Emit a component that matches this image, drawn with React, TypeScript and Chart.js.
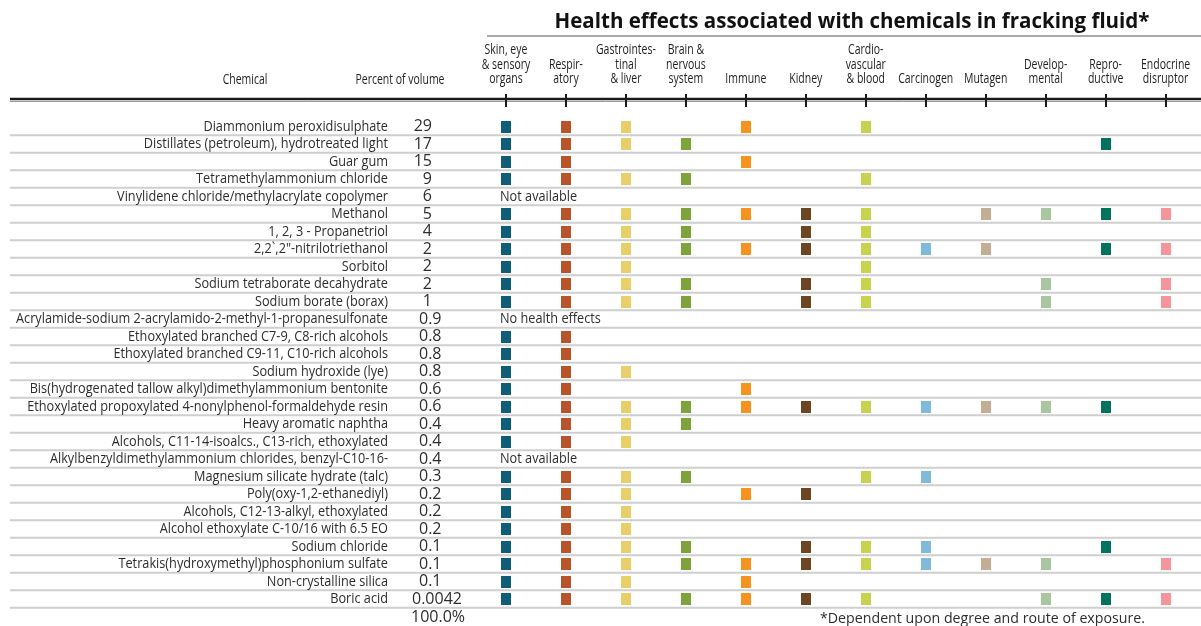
import React, { useEffect, useRef } from 'react';
import { Chart, registerables } from 'chart.js';

Chart.register(...registerables);

const TITLE = 'Health effects associated with chemicals in fracking fluid*';
const FOOTNOTE = '*Dependent upon degree and route of exposure.';
const TOTAL_LABEL = '100.0%';

const effects: string[][] = [
  ['Skin, eye', '& sensory', 'organs'],
  ['Respir-', 'atory'],
  ['Gastrointes-', 'tinal', '& liver'],
  ['Brain &', 'nervous', 'system'],
  ['Immune'],
  ['Kidney'],
  ['Cardio-', 'vascular', '& blood'],
  ['Carcinogen'],
  ['Mutagen'],
  ['Develop-', 'mental'],
  ['Repro-', 'ductive'],
  ['Endocrine', 'disruptor'],
];

const effectColors: string[] = [
  '#0f5d79', '#b9532a', '#e9cf6a', '#7ea33b', '#f6921e', '#6d4522',
  '#c9d24c', '#80b9d9', '#c3ae95', '#a8c7a0', '#03725f', '#f3959b',
];

const chemicals: string[] = [
  'Diammonium peroxidisulphate',
  'Distillates (petroleum), hydrotreated light',
  'Guar gum',
  'Tetramethylammonium chloride',
  'Vinylidene chloride/methylacrylate copolymer',
  'Methanol',
  '1, 2, 3 - Propanetriol',
  '2,2`,2"-nitrilotriethanol',
  'Sorbitol',
  'Sodium tetraborate decahydrate',
  'Sodium borate (borax)',
  'Acrylamide-sodium 2-acrylamido-2-methyl-1-propanesulfonate',
  'Ethoxylated branched C7-9, C8-rich alcohols',
  'Ethoxylated branched C9-11, C10-rich alcohols',
  'Sodium hydroxide (lye)',
  'Bis(hydrogenated tallow alkyl)dimethylammonium bentonite',
  'Ethoxylated propoxylated 4-nonylphenol-formaldehyde resin',
  'Heavy aromatic naphtha',
  'Alcohols, C11-14-isoalcs., C13-rich, ethoxylated',
  'Alkylbenzyldimethylammonium chlorides, benzyl-C10-16-',
  'Magnesium silicate hydrate (talc)',
  'Poly(oxy-1,2-ethanediyl)',
  'Alcohols, C12-13-alkyl, ethoxylated',
  'Alcohol ethoxylate C-10/16 with 6.5 EO',
  'Sodium chloride',
  'Tetrakis(hydroxymethyl)phosphonium sulfate',
  'Non-crystalline silica',
  'Boric acid',
];

const percentOfVolume: string[] = [
  '29', '17', '15', '9', '6', '5', '4', '2', '2', '2', '1', '0.9', '0.8', '0.8',
  '0.8', '0.6', '0.6', '0.4', '0.4', '0.4', '0.3', '0.2', '0.2', '0.2', '0.1',
  '0.1', '0.1', '0.0042',
];

const rowNotes: string[] = [
  '', '', '', '', 'Not available', '', '', '', '', '', '', 'No health effects',
  '', '', '', '', '', '', '', 'Not available', '', '', '', '', '', '', '', '',
];

// Columns: skin, respiratory, GI, brain, immune, kidney, cardio, carcinogen,
// mutagen, developmental, reproductive, endocrine
const effectFlags: number[][] = [
  [1, 1, 1, 0, 1, 0, 1, 0, 0, 0, 0, 0],
  [1, 1, 1, 1, 0, 0, 0, 0, 0, 0, 1, 0],
  [1, 1, 0, 0, 1, 0, 0, 0, 0, 0, 0, 0],
  [1, 1, 1, 1, 0, 0, 1, 0, 0, 0, 0, 0],
  [0, 0, 0, 0, 0, 0, 0, 0, 0, 0, 0, 0],
  [1, 1, 1, 1, 1, 1, 1, 0, 1, 1, 1, 1],
  [1, 1, 1, 1, 0, 1, 1, 0, 0, 0, 0, 0],
  [1, 1, 1, 1, 1, 1, 1, 1, 1, 0, 1, 1],
  [1, 1, 1, 0, 0, 0, 1, 0, 0, 0, 0, 0],
  [1, 1, 1, 1, 0, 1, 1, 0, 0, 1, 0, 1],
  [1, 1, 1, 1, 0, 1, 1, 0, 0, 1, 0, 1],
  [0, 0, 0, 0, 0, 0, 0, 0, 0, 0, 0, 0],
  [1, 1, 0, 0, 0, 0, 0, 0, 0, 0, 0, 0],
  [1, 1, 0, 0, 0, 0, 0, 0, 0, 0, 0, 0],
  [1, 1, 1, 0, 0, 0, 0, 0, 0, 0, 0, 0],
  [1, 1, 0, 0, 1, 0, 0, 0, 0, 0, 0, 0],
  [1, 1, 1, 1, 1, 1, 1, 1, 1, 1, 1, 0],
  [1, 1, 1, 1, 0, 0, 0, 0, 0, 0, 0, 0],
  [1, 1, 1, 0, 0, 0, 0, 0, 0, 0, 0, 0],
  [0, 0, 0, 0, 0, 0, 0, 0, 0, 0, 0, 0],
  [1, 1, 1, 1, 0, 0, 1, 1, 0, 0, 0, 0],
  [1, 1, 1, 0, 1, 1, 0, 0, 0, 0, 0, 0],
  [1, 1, 1, 0, 0, 0, 0, 0, 0, 0, 0, 0],
  [1, 1, 1, 0, 0, 0, 0, 0, 0, 0, 0, 0],
  [1, 1, 1, 1, 0, 1, 1, 1, 0, 0, 1, 0],
  [1, 1, 1, 1, 1, 1, 1, 1, 1, 1, 0, 1],
  [1, 1, 1, 0, 1, 0, 0, 0, 0, 0, 0, 0],
  [1, 1, 1, 1, 1, 1, 1, 0, 0, 1, 1, 1],
];

const W = 1201;
const H = 626;
const ROW_FONT = '15px "Open Sans"';
const NUM_FONT = '16px "Open Sans"';
const HEAD_FONT = '14.5px "Open Sans"';
const TITLE_FONT = 'bold 22px "Open Sans"';

function makeSquare(color: string): HTMLCanvasElement {
  const c = document.createElement('canvas');
  c.width = 10;
  c.height = 12;
  const g = c.getContext('2d')!;
  g.fillStyle = color;
  g.fillRect(0, 0, 10, 12);
  return c;
}

function drawScaled(ctx: CanvasRenderingContext2D, text: string, x: number, y: number, align: CanvasTextAlign, sx: number) {
  ctx.save();
  ctx.translate(x, y);
  ctx.scale(sx, 1);
  ctx.textAlign = align;
  ctx.fillText(text, 0, 0);
  ctx.restore();
}

const tablePlugin = {
  id: 'tablePlugin',
  beforeDatasetsDraw(chart: any) {
    const ctx: CanvasRenderingContext2D = chart.ctx;
    const y = chart.scales.y;
    const half = (y.getPixelForValue(1) - y.getPixelForValue(0)) / 2;
    ctx.save();
    ctx.strokeStyle = '#cfcfcf';
    ctx.lineWidth = 2;
    chemicals.forEach((_, i) => {
      const yy = y.getPixelForValue(i) + half;
      ctx.beginPath();
      ctx.moveTo(10, yy);
      ctx.lineTo(W, yy);
      ctx.stroke();
    });
    ctx.restore();
  },
  afterDraw(chart: any) {
    const ctx: CanvasRenderingContext2D = chart.ctx;
    const xs = chart.scales.x;
    const ys = chart.scales.y;
    ctx.save();
    ctx.textBaseline = 'middle';

    // Row labels
    ctx.font = ROW_FONT;
    const sxRow = 372 / ctx.measureText(chemicals[11]).width;
    ctx.fillStyle = '#2e2e2e';
    chemicals.forEach((name, i) => {
      const yy = ys.getPixelForValue(i);
      drawScaled(ctx, name, 388, yy, 'right', sxRow);
      if (rowNotes[i]) drawScaled(ctx, rowNotes[i], 500, yy, 'left', sxRow);
    });
    const sxFoot = 325 / ctx.measureText(FOOTNOTE).width;
    drawScaled(ctx, FOOTNOTE, 820, 619, 'left', sxFoot);

    ctx.font = NUM_FONT;
    const sxNum = 50 / ctx.measureText('0.0042').width;
    percentOfVolume.forEach((p, i) => {
      const yy = ys.getPixelForValue(i);
      if (p.indexOf('.') < 0) drawScaled(ctx, p, 432, yy, 'right', sxNum);
      else drawScaled(ctx, p, p.length > 3 ? 412 : 419, yy, 'left', sxNum);
    });
    drawScaled(ctx, TOTAL_LABEL, 411, 617, 'left', sxNum);

    // Header rule and ticks
    ctx.strokeStyle = '#1a1a1a';
    ctx.lineWidth = 2.5;
    ctx.beginPath();
    ctx.moveTo(10, 99);
    ctx.lineTo(W, 99);
    ctx.stroke();
    ctx.strokeStyle = '#9a9a9a';
    ctx.lineWidth = 1;
    ctx.beginPath();
    ctx.moveTo(10, 101.5);
    ctx.lineTo(W, 101.5);
    ctx.stroke();
    ctx.strokeStyle = '#1a1a1a';
    ctx.lineWidth = 2;
    effects.forEach((_, j) => {
      const xx = Math.round(xs.getPixelForValue(j + 1));
      ctx.beginPath();
      ctx.moveTo(xx, 94);
      ctx.lineTo(xx, 107);
      ctx.stroke();
    });

    // Column headers
    ctx.font = HEAD_FONT;
    ctx.fillStyle = '#1f1f1f';
    const sxHead = 89 / ctx.measureText('Percent of volume').width;
    drawScaled(ctx, 'Chemical', 245, 80, 'center', sxHead);
    drawScaled(ctx, 'Percent of volume', 400, 80, 'center', sxHead);
    effects.forEach((lines, j) => {
      const xx = xs.getPixelForValue(j + 1);
      const n = lines.length;
      lines.forEach((ln, k) => {
        drawScaled(ctx, ln, xx, 79 - (n - 1 - k) * 14.5, 'center', sxHead);
      });
    });

    // Title
    ctx.font = TITLE_FONT;
    ctx.fillStyle = '#111';
    const sxTitle = 595 / ctx.measureText(TITLE).width;
    drawScaled(ctx, TITLE, 852, 22, 'center', sxTitle);
    ctx.strokeStyle = '#8c8c8c';
    ctx.lineWidth = 1.5;
    ctx.beginPath();
    ctx.moveTo(487, 36);
    ctx.lineTo(W, 36);
    ctx.stroke();
    ctx.restore();
  },
};

export default function App() {
  const ref = useRef<HTMLCanvasElement | null>(null);
  useEffect(() => {
    if (!ref.current) return;
    const datasets = effects.map((lines, j) => ({
      label: lines.join(' '),
      data: chemicals
        .map((c, i) => (effectFlags[i][j] ? { x: j + 1, y: c } : null))
        .filter((d) => d !== null),
      pointStyle: makeSquare(effectColors[j]),
      backgroundColor: effectColors[j],
      borderColor: effectColors[j],
      pointRadius: 6,
      pointHoverRadius: 6,
    }));
    const chart = new Chart(ref.current, {
      type: 'scatter',
      data: { datasets: datasets as any },
      options: {
        animation: false,
        responsive: false,
        events: [],
        layout: { padding: { left: 476, right: 0, top: 117.75, bottom: H - 607.75 } },
        plugins: { legend: { display: false }, tooltip: { enabled: false } },
        scales: {
          x: { type: 'linear', min: 0.5, max: 12.474, display: false },
          y: { type: 'category', labels: chemicals, offset: true, display: false },
        },
      },
      plugins: [tablePlugin],
    });
    return () => chart.destroy();
  }, []);
  return (
    <div style={{ position: 'absolute', left: 0, top: 0, width: W, height: H, background: '#fff' }}>
      <canvas ref={ref} width={W} height={H} style={{ display: 'block' }} />
    </div>
  );
}
